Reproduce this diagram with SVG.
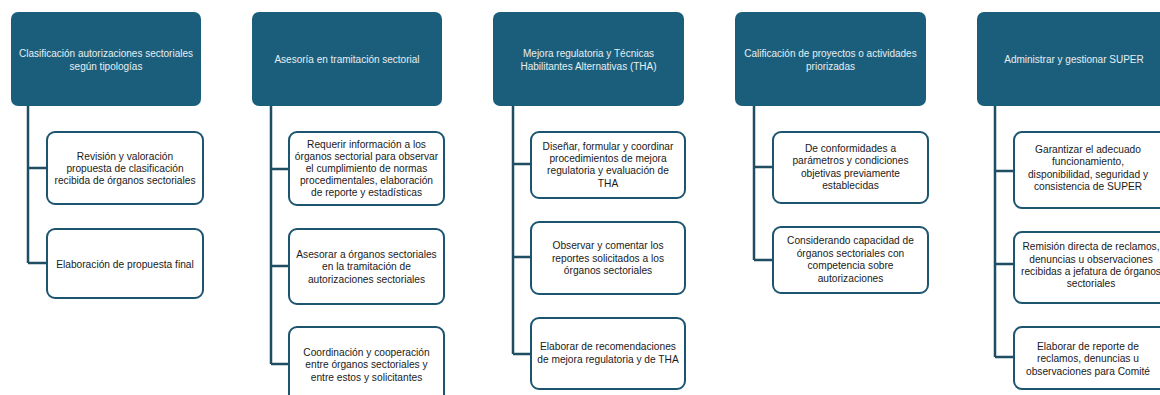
<svg xmlns="http://www.w3.org/2000/svg" width="1160" height="395" viewBox="0 0 1160 395">
<style>
.hd{fill:#1b5e7b;}
.bx{fill:#ffffff;stroke:#1d5570;stroke-width:2;}
.ln{fill:none;stroke:#1f4d62;stroke-width:2.5;}
.ht{font-family:"Liberation Sans",Arial,sans-serif;font-size:10px;fill:#e6eef2;text-anchor:middle;}
.bt{font-family:"Liberation Sans",Arial,sans-serif;font-size:10.2px;fill:#1a1a1a;text-anchor:middle;}
</style>
<rect width="1160" height="395" fill="#ffffff"/>
<g id="connectors">
<path class="ln" d="M28 106V263M28 168H47M28 263H47"/>
<path class="ln" d="M271 106V364M271 169H289M271 266H289M271 364H289"/>
<path class="ln" d="M513 106V354M513 164H531M513 257H531M513 354H531"/>
<path class="ln" d="M754 106V260M754 167H773M754 260H773"/>
<path class="ln" d="M995 106V357M995 171H1014M995 264H1014M995 357H1014"/>
</g>
<g id="h1"><rect class="hd" x="11" y="12" width="190" height="94" rx="7"/>
<text class="ht" x="106" y="57"><tspan x="106">Clasificación autorizaciones sectoriales</tspan><tspan x="106" dy="12.5">según tipologías</tspan></text></g>
<g id="c1a"><rect class="bx" x="47" y="132" width="156" height="72" rx="8"/>
<text class="bt" x="125" y="159.5"><tspan x="125">Revisión y valoración</tspan><tspan x="125" dy="12">propuesta de clasificación</tspan><tspan x="125" dy="12">recibida de órganos sectoriales</tspan></text></g>
<g id="c1b"><rect class="bx" x="47" y="229" width="156" height="69" rx="8"/>
<text class="bt" x="125" y="267.5">Elaboración de propuesta final</text></g>

<g id="h2"><rect class="hd" x="252" y="12" width="190" height="94" rx="7"/>
<text class="ht" x="347" y="63">Asesoría en tramitación sectorial</text></g>
<g id="c2a"><rect class="bx" x="289" y="132" width="155" height="73" rx="8"/>
<text class="bt" x="366.5" y="147.5"><tspan x="366.5">Requerir información a los</tspan><tspan x="366.5" dy="12.2">órganos sectorial para observar</tspan><tspan x="366.5" dy="12.2">el cumplimiento de normas</tspan><tspan x="366.5" dy="12.2">procedimentales, elaboración</tspan><tspan x="366.5" dy="12.2">de reporte y estadísticas</tspan></text></g>
<g id="c2b"><rect class="bx" x="289" y="229" width="155" height="75" rx="8"/>
<text class="bt" x="366.5" y="257.5"><tspan x="366.5">Asesorar a órganos sectoriales</tspan><tspan x="366.5" dy="12.5">en la tramitación de</tspan><tspan x="366.5" dy="12.5">autorizaciones sectoriales</tspan></text></g>
<g id="c2c"><rect class="bx" x="289" y="327" width="155" height="82" rx="8"/>
<text class="bt" x="366.5" y="355.5"><tspan x="366.5">Coordinación y cooperación</tspan><tspan x="366.5" dy="12.7">entre órganos sectoriales y</tspan><tspan x="366.5" dy="12.7">entre estos y solicitantes</tspan></text></g>

<g id="h3"><rect class="hd" x="493" y="12" width="191" height="94" rx="7"/>
<text class="ht" x="588.5" y="56.5"><tspan x="588.5">Mejora regulatoria y Técnicas</tspan><tspan x="588.5" dy="13">Habilitantes Alternativas (THA)</tspan></text></g>
<g id="c3a"><rect class="bx" x="531" y="132" width="154" height="66" rx="8"/>
<text class="bt" x="608" y="149.5"><tspan x="608">Diseñar, formular y coordinar</tspan><tspan x="608" dy="12.4">procedimientos de mejora</tspan><tspan x="608" dy="12.4">regulatoria y evaluación de</tspan><tspan x="608" dy="12.4">THA</tspan></text></g>
<g id="c3b"><rect class="bx" x="531" y="222" width="154" height="72" rx="8"/>
<text class="bt" x="608" y="249.2"><tspan x="608">Observar y comentar los</tspan><tspan x="608" dy="12.5">reportes solicitados a los</tspan><tspan x="608" dy="12.5">órganos sectoriales</tspan></text></g>
<g id="c3c"><rect class="bx" x="531" y="318" width="154" height="71" rx="8"/>
<text class="bt" x="608" y="350.2"><tspan x="608">Elaborar de recomendaciones</tspan><tspan x="608" dy="13">de mejora regulatoria y de THA</tspan></text></g>

<g id="h4"><rect class="hd" x="735" y="12" width="191" height="94" rx="7"/>
<text class="ht" x="830.5" y="57"><tspan x="830.5">Calificación de proyectos o actividades</tspan><tspan x="830.5" dy="12.7">priorizadas</tspan></text></g>
<g id="c4a"><rect class="bx" x="773" y="132" width="155" height="71" rx="8"/>
<text class="bt" x="850.5" y="152"><tspan x="850.5">De conformidades a</tspan><tspan x="850.5" dy="12.4">parámetros y condiciones</tspan><tspan x="850.5" dy="12.4">objetivas previamente</tspan><tspan x="850.5" dy="12.4">establecidas</tspan></text></g>
<g id="c4b"><rect class="bx" x="773" y="227" width="155" height="66" rx="8"/>
<text class="bt" x="850.5" y="244.2"><tspan x="850.5">Considerando capacidad de</tspan><tspan x="850.5" dy="12.5">órganos sectoriales con</tspan><tspan x="850.5" dy="12.5">competencia sobre</tspan><tspan x="850.5" dy="12.5">autorizaciones</tspan></text></g>

<g id="h5"><rect class="hd" x="977" y="12" width="195" height="94" rx="7"/>
<text class="ht" x="1074" y="63">Administrar y gestionar SUPER</text></g>
<g id="c5a"><rect class="bx" x="1014" y="132" width="158" height="76" rx="8"/>
<text class="bt" x="1088" y="152.8"><tspan x="1088">Garantizar el adecuado</tspan><tspan x="1088" dy="12.5">funcionamiento,</tspan><tspan x="1088" dy="12.5">disponibilidad, seguridad y</tspan><tspan x="1088" dy="12.5">consistencia de SUPER</tspan></text></g>
<g id="c5b"><rect class="bx" x="1014" y="232" width="158" height="71" rx="8"/>
<text class="bt" x="1091" y="250.2"><tspan x="1091">Remisión directa de reclamos,</tspan><tspan x="1091" dy="12.4">denuncias u observaciones</tspan><tspan x="1091" dy="12.4">recibidas a jefatura de órganos</tspan><tspan x="1091" dy="12.4">sectoriales</tspan></text></g>
<g id="c5c"><rect class="bx" x="1014" y="327" width="158" height="62" rx="8"/>
<text class="bt" x="1088" y="349.8"><tspan x="1088">Elaborar de reporte de</tspan><tspan x="1088" dy="12.4">reclamos, denuncias u</tspan><tspan x="1088" dy="12.4">observaciones para Comité</tspan></text></g>
</svg>
